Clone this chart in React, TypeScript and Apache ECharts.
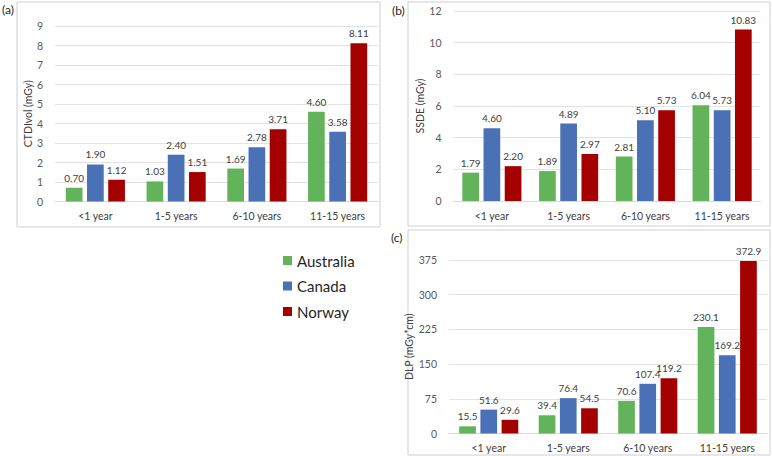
import React, { useEffect, useRef } from "react";
import * as echarts from "echarts";

const categories = ["<1 year", "1-5 years", "6-10 years", "11-15 years"];
const countries = ["Australia", "Canada", "Norway"];
const colors = ["#62b35a", "#4a71b6", "#a50000"];

const ctdiAustralia = [0.7, 1.03, 1.69, 4.6];
const ctdiCanada = [1.9, 2.4, 2.78, 3.58];
const ctdiNorway = [1.12, 1.51, 3.71, 8.11];

const ssdeAustralia = [1.79, 1.89, 2.81, 6.04];
const ssdeCanada = [4.6, 4.89, 5.1, 5.73];
const ssdeNorway = [2.2, 2.97, 5.73, 10.83];

const dlpAustralia = [15.5, 39.4, 70.6, 230.1];
const dlpCanada = [51.6, 76.4, 107.4, 169.2];
const dlpNorway = [29.6, 54.5, 119.2, 372.9];

const FONT = "Lato, 'Open Sans', sans-serif";

export default function App() {
  const ref = useRef<HTMLDivElement>(null);
  useEffect(() => {
    if (!ref.current) return;
    const chart = echarts.init(ref.current, null, { renderer: "svg" });

    const grids = [
      { left: 55, right: 394, top: 26, bottom: 254.5 },
      { left: 453.5, right: 11.5, top: 11, bottom: 255 },
      { left: 449, right: 5, top: 260, bottom: 22.5 },
    ];
    const yDefs = [
      { name: "CTDIvol (mGy)", max: 9, interval: 1, gap: 18, dec: 2 },
      { name: "SSDE (mGy)", max: 12, interval: 2, gap: 24, dec: 2 },
      { name: "DLP (mGy*cm)", max: 375, interval: 75, gap: 29, dec: 1 },
    ];
    const data = [
      [ctdiAustralia, ctdiCanada, ctdiNorway],
      [ssdeAustralia, ssdeCanada, ssdeNorway],
      [dlpAustralia, dlpCanada, dlpNorway],
    ];

    const series: any[] = [];
    data.forEach((set, gi) => {
      set.forEach((vals, si) => {
        series.push({
          type: "bar",
          name: countries[si],
          xAxisIndex: gi,
          yAxisIndex: gi,
          data: vals,
          barWidth: 16.7,
          barGap: "27%",
          itemStyle: { color: colors[si] },
          label: {
            show: true,
            position: "top",
            distance: 5,
            fontFamily: FONT,
            fontSize: 10,
            color: "#404040",
            formatter: (p: any) => Number(p.value).toFixed(yDefs[gi].dec),
          },
        });
      });
    });

    chart.setOption({
      animation: false,
      textStyle: { fontFamily: FONT },
      grid: grids,
      xAxis: grids.map((_, i) => ({
        type: "category",
        gridIndex: i,
        data: categories,
        axisTick: { show: false },
        axisLine: { lineStyle: { color: "#d9d9d9" } },
        axisLabel: { color: "#404040", fontSize: 10.5, fontFamily: FONT, margin: 9 },
      })),
      yAxis: yDefs.map((d, i) => ({
        type: "value",
        gridIndex: i,
        min: 0,
        max: d.max,
        interval: d.interval,
        name: d.name,
        nameLocation: "middle",
        nameGap: d.gap,
        nameRotate: 90,
        nameTextStyle: { color: "#404040", fontSize: 10.5, fontFamily: FONT },
        axisLine: { show: false },
        axisTick: { show: false },
        axisLabel: { color: "#595959", fontSize: 10.5, fontFamily: FONT, margin: 12 },
        splitLine: { lineStyle: { color: "#e3e3e3" } },
      })),
      legend: {
        data: countries,
        orient: "vertical",
        left: 278,
        top: 248,
        itemWidth: 9,
        itemHeight: 9,
        itemGap: 10.5,
        icon: "rect",
        textStyle: { fontSize: 15, color: "#262626", fontFamily: FONT },
      },
      graphic: [
        { type: "rect", shape: { x: 17, y: 2, width: 363, height: 225 }, style: { fill: "none", stroke: "#cfcfcf", lineWidth: 1 } },
        { type: "rect", shape: { x: 408, y: 2, width: 362, height: 224 }, style: { fill: "none", stroke: "#cfcfcf", lineWidth: 1 } },
        { type: "rect", shape: { x: 408, y: 230, width: 362, height: 225 }, style: { fill: "none", stroke: "#cfcfcf", lineWidth: 1 } },
        { type: "text", left: 2, top: 3, style: { text: "(a)", fontSize: 12, fill: "#262626", fontFamily: FONT } },
        { type: "text", left: 392, top: 4, style: { text: "(b)", fontSize: 12, fill: "#262626", fontFamily: FONT } },
        { type: "text", left: 391, top: 231, style: { text: "(c)", fontSize: 12, fill: "#262626", fontFamily: FONT } },
      ],
      series,
    });
    return () => chart.dispose();
  }, []);
  return (
    <div
      ref={ref}
      style={{ position: "fixed", left: 0, top: 0, width: 772, height: 456, background: "#ffffff" }}
    />
  );
}
